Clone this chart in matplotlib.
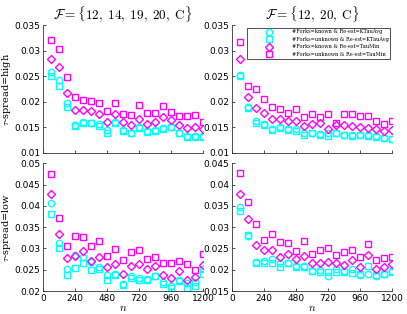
import numpy as np
import matplotlib
matplotlib.use('Agg')
import matplotlib.pyplot as plt

plt.rcParams['mathtext.fontset'] = 'cm'
plt.rcParams['font.family'] = 'DejaVu Sans'
plt.rcParams['axes.formatter.use_mathtext'] = False

n = np.arange(60, 1201, 60)

# F = {12, 14, 19, 20, C}, tau-spread = high
tl_known_avg = [0.0259, 0.0242, 0.0198, 0.0154, 0.0160, 0.0159, 0.0156, 0.0144, 0.0160, 0.0144,
                0.0139, 0.0151, 0.0143, 0.0144, 0.0149, 0.0151, 0.0139, 0.0133, 0.0133, 0.0133]
tl_unknown_avg = [0.0250, 0.0231, 0.0189, 0.0152, 0.0158, 0.0158, 0.0152, 0.0139, 0.0158, 0.0143,
                  0.0138, 0.0148, 0.0140, 0.0142, 0.0146, 0.0150, 0.0138, 0.0131, 0.0131, 0.0131]
tl_known_min = [0.0284, 0.0268, 0.0218, 0.0183, 0.0183, 0.0182, 0.0176, 0.0160, 0.0176, 0.0161,
                0.0154, 0.0167, 0.0157, 0.0161, 0.0170, 0.0165, 0.0154, 0.0149, 0.0150, 0.0146]
tl_unknown_min = [0.0321, 0.0304, 0.0249, 0.0210, 0.0203, 0.0201, 0.0198, 0.0182, 0.0197, 0.0176,
                  0.0174, 0.0194, 0.0178, 0.0178, 0.0191, 0.0180, 0.0172, 0.0172, 0.0174, 0.0161]

# F = {12, 20, C}, tau-spread = high
tr_known_avg = [0.0252, 0.0189, 0.0163, 0.0156, 0.0146, 0.0151, 0.0146, 0.0146, 0.0138, 0.0139,
                0.0137, 0.0138, 0.0139, 0.0136, 0.0136, 0.0135, 0.0135, 0.0133, 0.0130, 0.0128]
tr_unknown_avg = [0.0250, 0.0187, 0.0158, 0.0155, 0.0144, 0.0149, 0.0144, 0.0142, 0.0136, 0.0138,
                  0.0135, 0.0133, 0.0138, 0.0135, 0.0133, 0.0135, 0.0133, 0.0131, 0.0130, 0.0128]
tr_known_min = [0.0284, 0.0210, 0.0187, 0.0178, 0.0166, 0.0166, 0.0162, 0.0163, 0.0152, 0.0156,
                0.0159, 0.0146, 0.0155, 0.0154, 0.0152, 0.0151, 0.0148, 0.0146, 0.0143, 0.0145]
tr_unknown_min = [0.0317, 0.0231, 0.0226, 0.0205, 0.0190, 0.0186, 0.0178, 0.0185, 0.0170, 0.0177,
                  0.0170, 0.0177, 0.0159, 0.0177, 0.0177, 0.0173, 0.0173, 0.0163, 0.0156, 0.0162]

# F = {12, 14, 19, 20, C}, tau-spread = low
bl_known_avg = [0.0406, 0.0312, 0.0252, 0.0285, 0.0281, 0.0269, 0.0257, 0.0237, 0.0240, 0.0216,
                0.0235, 0.0230, 0.0229, 0.0235, 0.0222, 0.0212, 0.0227, 0.0219, 0.0222, 0.0252]
bl_unknown_avg = [0.0381, 0.0300, 0.0237, 0.0255, 0.0267, 0.0249, 0.0252, 0.0227, 0.0237, 0.0214,
                  0.0230, 0.0226, 0.0226, 0.0235, 0.0216, 0.0208, 0.0224, 0.0208, 0.0212, 0.0241]
bl_known_min = [0.0427, 0.0334, 0.0277, 0.0282, 0.0293, 0.0271, 0.0281, 0.0256, 0.0263, 0.0240,
                0.0260, 0.0263, 0.0253, 0.0260, 0.0237, 0.0230, 0.0248, 0.0227, 0.0232, 0.0261]
bl_unknown_min = [0.0476, 0.0372, 0.0306, 0.0329, 0.0328, 0.0306, 0.0317, 0.0282, 0.0299, 0.0273,
                  0.0292, 0.0296, 0.0276, 0.0279, 0.0266, 0.0266, 0.0270, 0.0263, 0.0249, 0.0288]

# F = {12, 20, C}, tau-spread = low
br_known_avg = [0.0347, 0.0279, 0.0218, 0.0220, 0.0226, 0.0215, 0.0217, 0.0209, 0.0210, 0.0198,
                0.0199, 0.0185, 0.0201, 0.0196, 0.0202, 0.0187, 0.0191, 0.0185, 0.0190, 0.0196]
br_unknown_avg = [0.0339, 0.0281, 0.0217, 0.0217, 0.0215, 0.0206, 0.0215, 0.0207, 0.0207, 0.0196,
                  0.0194, 0.0194, 0.0194, 0.0194, 0.0193, 0.0190, 0.0209, 0.0187, 0.0191, 0.0194]
br_known_min = [0.0377, 0.0319, 0.0258, 0.0246, 0.0246, 0.0229, 0.0237, 0.0226, 0.0232, 0.0217,
                0.0217, 0.0219, 0.0215, 0.0212, 0.0223, 0.0207, 0.0234, 0.0203, 0.0206, 0.0213]
br_unknown_min = [0.0428, 0.0360, 0.0307, 0.0270, 0.0283, 0.0265, 0.0263, 0.0245, 0.0267, 0.0237,
                  0.0246, 0.0251, 0.0235, 0.0242, 0.0246, 0.0229, 0.0260, 0.0223, 0.0227, 0.0231]

labels = ['#Forks=known & Re-est=KTauAvg', '#Forks=unknown & Re-est=KTauAvg',
          '#Forks=known & Re-est=TauMin', '#Forks=unknown & Re-est=TauMin']
styles = [('o', '#00FFFF'), ('s', '#00FFFF'), ('D', '#FF00FF'), ('s', '#FF00FF')]
titles = [r'$\mathcal{F} = \{12,\;14,\;19,\;20,\;\mathrm{C}\}$',
          r'$\mathcal{F} = \{12,\;20,\;\mathrm{C}\}$']
xticks = [0, 240, 480, 720, 960, 1200]

panels = [
    ([tl_known_avg, tl_unknown_avg, tl_known_min, tl_unknown_min], (0.01, 0.035)),
    ([tr_known_avg, tr_unknown_avg, tr_known_min, tr_unknown_min], (0.01, 0.035)),
    ([bl_known_avg, bl_unknown_avg, bl_known_min, bl_unknown_min], (0.02, 0.05)),
    ([br_known_avg, br_unknown_avg, br_known_min, br_unknown_min], (0.015, 0.045)),
]

fig = plt.figure(figsize=(4.07, 3.14), dpi=100)
lefts = [0.106, 0.570]
bottoms = [0.513, 0.073]
w, h = 0.393, 0.407

axes = []
for i, (series, ylim) in enumerate(panels):
    r, c = divmod(i, 2)
    ax = fig.add_axes([lefts[c], bottoms[r], w, h])
    axes.append(ax)
    for ys, (m, col), lab in zip(series, styles, labels):
        ms = 4.2 if m == 'D' else 4.6
        ax.plot(n, ys, linestyle='none', marker=m, markersize=ms, markerfacecolor='none',
                markeredgecolor=col, markeredgewidth=1.0, label=lab)
    ax.set_xlim(0, 1200)
    ax.set_ylim(*ylim)
    ax.set_xticks(xticks)
    ax.yaxis.set_major_formatter(matplotlib.ticker.FormatStrFormatter('%g'))
    ax.spines['top'].set_visible(False)
    ax.spines['right'].set_visible(False)
    for s in ('left', 'bottom'):
        ax.spines[s].set_linewidth(0.6)
        ax.spines[s].set_color('#333333')
    ax.tick_params(direction='in', length=2.5, width=0.6, labelsize=6.5, pad=2,
                   colors='#333333', labelcolor='black')
    if r == 0:
        ax.set_xticklabels([])
        ax.set_title(titles[c], fontsize=9.5, pad=4)
    else:
        ax.set_xlabel(r'$n$', fontsize=8, labelpad=0)

axes[0].set_ylabel(r'$\tau$-spread=high', fontsize=7, fontfamily='DejaVu Serif', labelpad=1)
axes[2].set_ylabel(r'$\tau$-spread=low', fontsize=7, fontfamily='DejaVu Serif', labelpad=1)

leg = axes[1].legend(loc='upper right', bbox_to_anchor=(0.99, 0.98),
                     prop={'family': 'DejaVu Serif', 'size': 3.6}, numpoints=1,
                     handlelength=8, handletextpad=0.6, labelspacing=0.5, borderpad=0.35,
                     frameon=True, fancybox=False, borderaxespad=0)
leg.get_frame().set_edgecolor('black')
leg.get_frame().set_linewidth(0.6)

fig.savefig('out.png', dpi=100)
